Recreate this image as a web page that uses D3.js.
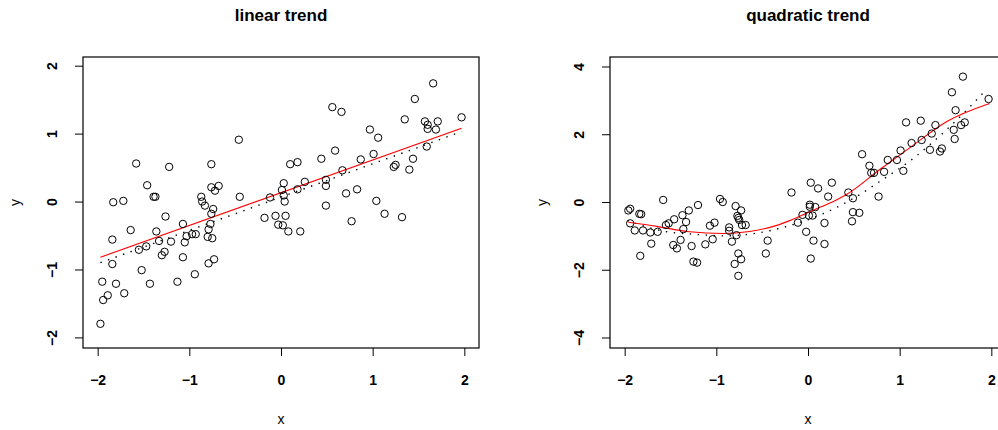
<!DOCTYPE html>
<html>
<head>
<meta charset="utf-8">
<script src="https://cdn.jsdelivr.net/npm/d3@7"></script>
<style>
body { margin: 0; background: #fff; }
svg text { font-family: "Liberation Sans", Arial, sans-serif; fill: #000; }
</style>
</head>
<body>
<div class="graph"></div>
<script>
// left panel: linear trend
var linX = [-0.46, -1.58, -1.22, -0.76, -1.46, -0.76, -0.72, -0.68, -1.39, -1.37,
    -1.83, -1.72, -0.87, -0.45, -0.12, -0.86, -0.83, -0.74, -0.76, -0.18,
    -0.06, -0.03, -1.26, -1.07, -1.64, -1.36, -1.84, -1.33, -1.20, -1.05,
    -1.03, -0.97, -0.93, -0.79, -0.77, -0.80, -0.75, -1.55, -1.47, -1.30,
    -1.27, -1.07, -1.84, -1.52, -0.79, -0.73, -0.94, -1.95, -1.80, -1.43,
    -1.13, -1.89, -1.94, -1.71, -1.97, 1.66, 1.46, 0.56, 0.66, 1.35,
    1.57, 1.60, 1.71, 1.60, 1.69, 1.97, 0.97, 1.06, 1.59, 0.59,
    0.44, 0.87, 1.01, 1.44, 0.10, 0.18, 1.23, 1.25, 1.40, 0.67,
    0.26, 0.49, 0.49, 0.03, 0.01, 0.03, 0.18, 0.71, 0.83, 1.04,
    0.04, 0.49, 0.05, 0.02, 0.08, 0.21, 0.77, 1.13, 1.32];
var linY = [0.91, 0.56, 0.51, 0.55, 0.24, 0.21, 0.16, 0.23, 0.07, 0.07,
    -0.01, 0.01, 0.07, 0.07, 0.06, 0.00, -0.06, -0.11, -0.18, -0.24,
    -0.21, -0.34, -0.22, -0.33, -0.42, -0.44, -0.56, -0.58, -0.59, -0.60,
    -0.51, -0.48, -0.48, -0.41, -0.33, -0.52, -0.54, -0.71, -0.66, -0.79,
    -0.74, -0.82, -0.92, -1.01, -0.91, -0.85, -1.07, -1.18, -1.21, -1.21,
    -1.18, -1.38, -1.45, -1.35, -1.80, 1.74, 1.51, 1.39, 1.32, 1.21,
    1.18, 1.13, 1.18, 1.07, 1.06, 1.24, 1.06, 0.94, 0.81, 0.75,
    0.63, 0.62, 0.70, 0.63, 0.55, 0.58, 0.51, 0.54, 0.47, 0.46,
    0.29, 0.32, 0.23, 0.27, 0.17, 0.09, 0.18, 0.12, 0.18, 0.01,
    0.00, -0.06, -0.21, -0.35, -0.44, -0.44, -0.29, -0.18, -0.23];
var linFitX = [-1.97, 1.97];
var linFitY = [-0.82, 1.08];
var linTrueX = [-1.97, 1.97];
var linTrueY = [-0.90, 1.03];

// right panel: quadratic trend
var quadX = [-1.58, -0.96, -0.93, -1.96, -1.94, -1.84, -1.82, -1.20, -1.30, -1.37,
    -1.33, -1.46, -1.52, -1.55, -1.36, -1.94, -1.89, -1.80, -1.72, -1.64,
    -1.71, -1.83, -1.47, -1.43, -1.39, -1.27, -1.25, -1.21, -1.12, -1.04,
    -1.07, -1.02, -0.79, -0.73, -0.77, -0.75, -0.76, -0.72, -0.68, -0.86,
    -0.86, -0.78, -0.83, -0.76, -0.73, -0.80, -0.76, -0.44, -0.46, -0.18,
    0.22, 0.44, 0.49, 0.77, 0.02, 0.02, 0.08, -0.06, 0.01, 0.05,
    -0.11, 0.18, 0.49, 0.56, 0.48, -0.02, 0.06, 0.18, 0.03, 1.69,
    1.57, 1.97, 1.61, 1.07, 1.23, 1.39, 1.71, 1.67, 1.59, 1.35,
    1.24, 1.13, 1.60, 1.01, 1.33, 1.46, 1.44, 0.59, 0.87, 0.97,
    0.67, 0.69, 0.72, 0.83, 1.04, 0.03, 0.11, 0.26];
var quadY = [0.06, 0.09, 0.00, -0.25, -0.20, -0.35, -0.36, -0.09, -0.25, -0.39,
    -0.59, -0.51, -0.63, -0.68, -0.80, -0.63, -0.84, -0.84, -0.90, -0.88,
    -1.23, -1.59, -1.27, -1.37, -1.12, -1.30, -1.76, -1.79, -1.25, -1.10,
    -0.70, -0.61, -0.12, -0.25, -0.41, -0.53, -0.47, -0.68, -0.68, -0.75,
    -0.85, -0.98, -1.17, -1.52, -1.69, -1.83, -2.18, -1.14, -1.52, 0.28,
    0.16, 0.28, 0.11, 0.16, -0.08, -0.14, -0.15, -0.38, -0.40, -0.40,
    -0.61, -0.62, -0.30, -0.32, -0.57, -0.88, -1.14, -1.24, -1.67, 3.70,
    3.24, 3.04, 2.71, 2.35, 2.40, 2.27, 2.35, 2.27, 2.13, 2.02,
    1.83, 1.74, 1.86, 1.52, 1.54, 1.58, 1.49, 1.41, 1.24, 1.24,
    1.07, 0.86, 0.86, 0.89, 0.92, 0.57, 0.40, 0.57];
var quadFitX = [-1.96, -1.65, -1.29, -0.93, -0.64, -0.34, -0.20, 0.05, 0.31, 0.42, 0.78, 1.15, 1.51, 1.98];
var quadFitY = [-0.60, -0.72, -0.88, -0.93, -0.87, -0.69, -0.55, -0.25, 0.06, 0.22, 0.95, 1.68, 2.37, 2.91];
var quadTrueX = [-1.97, -1.54, -1.25, -0.90, -0.56, -0.27, 0.16, 0.56, 0.78, 1.15, 1.51, 1.95];
var quadTrueY = [-0.55, -0.88, -0.95, -1.00, -0.92, -0.75, -0.35, 0.21, 0.60, 1.29, 2.13, 3.33];

var xTicks = [-2, -1, 0, 1, 2];
var linYTicks = [-2, -1, 0, 1, 2];
var quadYTicks = [-4, -2, 0, 2, 4];

var W = 998, H = 430;
var TOP = 57, BOTTOM = 348, PW = 396;

var svg = d3.select(".graph").append("svg")
    .attr("width", W)
    .attr("height", H);

var fmt = function (d) {
    return d < 0 ? "\u2212" + Math.abs(d) : String(d);
};

var toPoints = function (xs, ys) {
    return xs.map(function (x, i) { return {x: x, y: ys[i]}; });
};

var drawPanel = function (left, title, xs, ys, fitX, fitY, trueX, trueY, yTicks, yDomain, curve) {
    var x = d3.scaleLinear().domain([-2.16, 2.16]).range([left, left + PW]);
    var y = d3.scaleLinear().domain(yDomain).range([BOTTOM, TOP]);
    var g = svg.append("g");

    g.append("text")
        .attr("x", left + PW / 2)
        .attr("y", 21)
        .attr("text-anchor", "middle")
        .style("font-size", "17px")
        .style("font-weight", "bold")
        .text(title);

    var xAxis = g.append("g")
        .attr("transform", "translate(0," + BOTTOM + ")")
        .call(d3.axisBottom(x).tickValues(xTicks).tickSize(8).tickFormat(fmt));
    xAxis.select(".domain").remove();
    xAxis.selectAll("line").attr("stroke", "#000");
    xAxis.selectAll("text")
        .attr("y", 32)
        .attr("dy", "0.35em")
        .style("font-size", "14px")
        .style("font-weight", "bold")
        .style("font-family", "Liberation Sans, Arial, sans-serif");

    var yAxis = g.append("g")
        .attr("transform", "translate(" + left + ",0)")
        .call(d3.axisLeft(y).tickValues(yTicks).tickSize(8).tickFormat(fmt));
    yAxis.select(".domain").remove();
    yAxis.selectAll("line").attr("stroke", "#000");
    yAxis.selectAll("text")
        .attr("x", 0)
        .attr("dy", "0.35em")
        .attr("text-anchor", "middle")
        .attr("transform", "translate(-31,0) rotate(-90)")
        .style("font-size", "14px")
        .style("font-weight", "bold")
        .style("font-family", "Liberation Sans, Arial, sans-serif");

    g.append("text")
        .attr("x", left + PW / 2)
        .attr("y", 424)
        .attr("text-anchor", "middle")
        .style("font-size", "14px")
        .text("x");

    g.append("text")
        .attr("transform", "translate(" + (left - 68) + "," + ((TOP + BOTTOM) / 2) + ") rotate(-90)")
        .attr("text-anchor", "middle")
        .attr("dy", "0.35em")
        .style("font-size", "14px")
        .text("y");

    var clip = "clip" + left;
    g.append("clipPath").attr("id", clip)
        .append("rect")
        .attr("x", left).attr("y", TOP)
        .attr("width", PW).attr("height", BOTTOM - TOP);

    var line = d3.line()
        .x(function (d) { return x(d.x); })
        .y(function (d) { return y(d.y); })
        .curve(curve);

    g.append("path")
        .datum(toPoints(trueX, trueY))
        .attr("d", line)
        .style("fill", "none")
        .style("stroke", "#000")
        .style("stroke-width", "1.4")
        .style("stroke-dasharray", "1.4,6.6");

    g.append("path")
        .datum(toPoints(fitX, fitY))
        .attr("d", line)
        .style("fill", "none")
        .style("stroke", "#ff0000")
        .style("stroke-width", "1.1");

    g.append("g")
        .selectAll("circle")
        .data(toPoints(xs, ys))
        .enter().append("circle")
        .attr("cx", function (d) { return x(d.x); })
        .attr("cy", function (d) { return y(d.y); })
        .attr("r", 3.7)
        .style("fill", "none")
        .style("stroke", "#000")
        .style("stroke-width", "1");

    g.append("rect")
        .attr("x", left)
        .attr("y", TOP)
        .attr("width", PW)
        .attr("height", BOTTOM - TOP)
        .style("fill", "none")
        .style("stroke", "#000")
        .style("stroke-width", "1.2");
};

drawPanel(83, "linear trend", linX, linY, linFitX, linFitY, linTrueX, linTrueY,
    linYTicks, [-2.156, 2.128], d3.curveLinear);
drawPanel(610, "quadratic trend", quadX, quadY, quadFitX, quadFitY, quadTrueX, quadTrueY,
    quadYTicks, [-4.31, 4.28], d3.curveMonotoneX);
</script>
</body>
</html>
